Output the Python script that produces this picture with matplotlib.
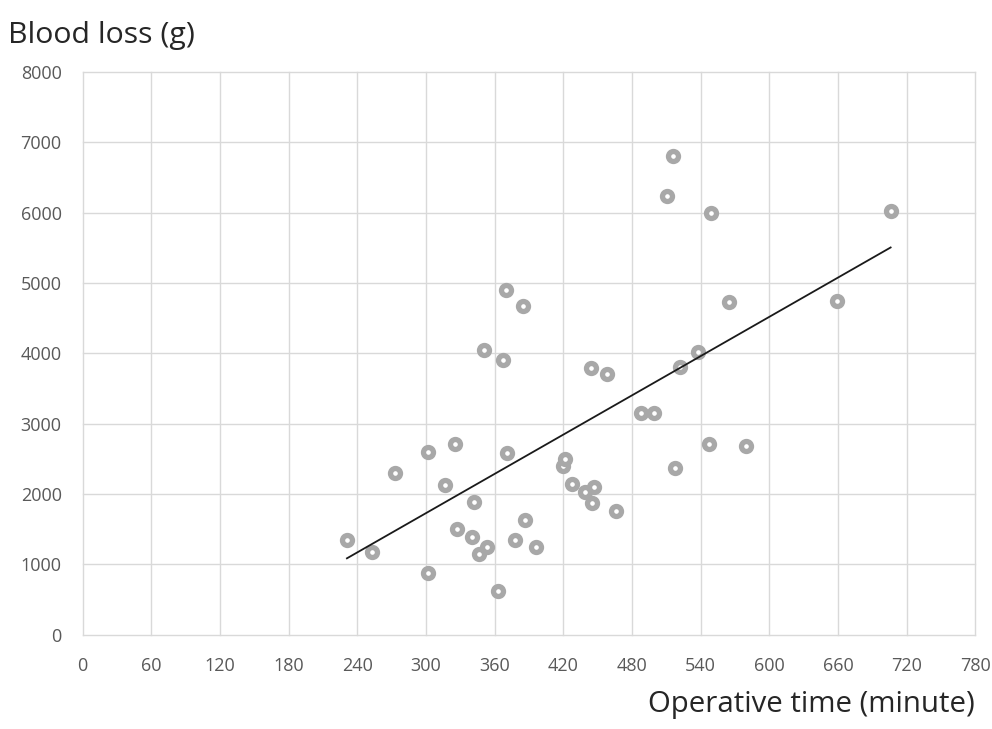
import numpy as np
import matplotlib.pyplot as plt

plt.rcParams["font.family"] = ["Open Sans", "DejaVu Sans"]

# Operative time (minute) and blood loss (g)
op_time = [231, 253, 273, 301.5, 301.5, 317, 325.6, 326.8, 340, 341.7,
           346.6, 353, 351, 362.6, 367, 370, 370.8, 378, 385, 386.8,
           396, 420, 421.4, 427.8, 438.9, 444, 445, 447, 458, 466.2,
           487.8, 498.9, 511, 516, 518, 522, 538, 547, 549, 565,
           580, 659, 706]
blood_loss = [1340, 1180, 2300, 2597, 871, 2132, 2706, 1497, 1392, 1881,
              1150, 1249, 4044, 623, 3901, 4898, 2583, 1340, 4679, 1625,
              1249, 2398, 2493, 2146, 2032, 3797, 1867, 2103, 3700, 1762,
              3156, 3156, 6240, 6808, 2374, 3802, 4020, 2706, 6002, 4731,
              2682, 4750, 6021]

x_ticks = list(range(0, 781, 60))
y_ticks = list(range(0, 8001, 1000))

x = np.array(op_time)
y = np.array(blood_loss)

fig = plt.figure(figsize=(9.92, 7.29), dpi=100)
ax = fig.add_axes([0.0832, 0.1296, 0.9, 0.7714])

ax.plot(x, y, linestyle="none", marker="o", markersize=7.2,
        markerfacecolor="white", markeredgecolor="#a8a8a8",
        markeredgewidth=3.8, zorder=3)

# linear trend line over the data range
k, b = np.polyfit(x, y, 1)
xs = np.array([x.min(), x.max()])
ax.plot(xs, k * xs + b, color="#1a1a1a", linewidth=1.3, zorder=4)

ax.set_xlim(0, 780)
ax.set_ylim(0, 8000)
ax.set_xticks(x_ticks)
ax.set_yticks(y_ticks)
ax.grid(True, color="#d9d9d9", linewidth=1.0)
ax.set_axisbelow(True)
for s in ax.spines.values():
    s.set_visible(False)
for gl in ax.get_xgridlines() + ax.get_ygridlines():
    gl.set_clip_on(False)
ax.tick_params(length=0, labelsize=13, labelcolor="#595959")
ax.tick_params(axis="x", pad=16)
ax.tick_params(axis="y", pad=15)

fig.text(0.008, 0.951, "Blood loss (g)", fontsize=21.8, color="#262626",
         ha="left", va="center")
fig.text(0.983, 0.034, "Operative time (minute)", fontsize=21.2,
         color="#262626", ha="right", va="center")

fig.savefig("out.png", dpi=100)
